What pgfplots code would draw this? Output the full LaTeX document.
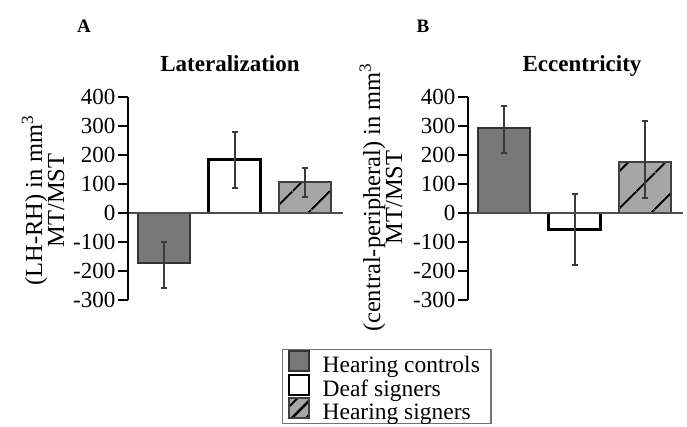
\documentclass[border=0pt]{standalone}
\usepackage{pgfplots}
\pgfplotsset{compat=1.18}
\usepackage{fontspec}
\setmainfont{Liberation Serif}
\usetikzlibrary{patterns.meta}
\definecolor{darkbar}{HTML}{787878}
\definecolor{lightbar}{HTML}{A6A6A6}
\definecolor{edge}{HTML}{333333}
\definecolor{errc}{HTML}{3A3A3A}
\pgfplotsset{
  panel/.style={
    scale only axis, width=215pt, height=203pt,
    xmin=0.485, xmax=3.54, ymin=-300, ymax=400,
    axis x line=middle, axis y line=left,
    axis line style={-},
    x axis line style={line width=1.4pt, color=black!70},
    y axis line style={line width=2.4pt, color=black},
    xtick=\empty,
    ytick={-300,-200,...,400},
    tick align=outside, major tick length=10pt,
    y tick style={line width=2.4pt, color=black},
    hide obscured x ticks=false, hide obscured y ticks=false,
    /pgf/number format/assume math mode=true,
    yticklabel style={font=\fontsize{23}{23}\selectfont, inner xsep=2.5pt},
    clip=false, axis on top,
    every axis y label/.style={rotate=90, anchor=center, align=center,
      font=\fontsize{24.5}{22}\selectfont},
  },
  barA/.style={ybar, bar width=52pt, bar shift=0pt, fill=darkbar, draw=edge, line width=2pt,
    error bars/.cd, y dir=both, y explicit,
    error bar style={line width=1.8pt, color=errc},
    error mark options={rotate=90, mark size=3pt, line width=1.8pt, color=errc}},
  barB/.style={ybar, bar width=52pt, bar shift=0pt, fill=white, draw=black, line width=2.4pt,
    error bars/.cd, y dir=both, y explicit,
    error bar style={line width=1.8pt, color=errc},
    error mark options={rotate=90, mark size=3pt, line width=1.8pt, color=errc}},
  barC/.style={ybar, bar width=52pt, bar shift=0pt, fill=lightbar, draw=black!75, line width=2pt,
    postaction={pattern={Lines[angle=45, distance=27pt, line width=2.4pt, xshift=15pt]}, pattern color=black},
    error bars/.cd, y dir=both, y explicit,
    error bar style={line width=1.8pt, color=errc},
    error mark options={rotate=90, mark size=3pt, line width=1.8pt, color=errc}},
}
\begin{document}
\begin{tikzpicture}
\path[use as bounding box] (0,0) rectangle (687pt,427pt);
\begin{axis}[panel, at={(128pt,127pt)}, anchor=south west,
  ylabel={(LH-RH) in mm\textsuperscript{3}\\MT/MST},
  every axis y label/.append style={at={(axis description cs:-0.395,0.49)}},
  legend style={at={(rel axis cs:0.716,-0.24)}, anchor=north west,
    draw=black!55, line width=1.4pt, fill=white,
    font=\fontsize{23.5}{23.5}\selectfont,
    cells={anchor=west}, inner xsep=5pt, inner ysep=1pt,
    nodes={inner ysep=1.5pt, inner xsep=6pt}, row sep=-2pt, column sep=7pt},
]
\addplot[legend image code/.code={\draw[fill=darkbar, draw=edge, line width=2pt] (0pt,-6pt) rectangle (20pt,14pt);}, barA]
  coordinates {(1,-171) += (0,72) -= (0,87)};
\addlegendentry{Hearing controls}
\addplot[legend image code/.code={\draw[fill=white, draw=black, line width=2pt] (0pt,-6pt) rectangle (20pt,14pt);}, barB]
  coordinates {(2,185) += (0,95) -= (0,98)};
\addlegendentry{Deaf signers}
\addplot[legend image code/.code={\draw[fill=lightbar, draw=black!75, line width=2pt, postaction={pattern={Lines[angle=45, distance=10pt, line width=2pt]}, pattern color=black}] (0pt,-6pt) rectangle (20pt,14pt);}, barC]
  coordinates {(3,107) += (0,47) -= (0,52)};
\addlegendentry{Hearing signers}
\end{axis}
\begin{axis}[panel, at={(468pt,127pt)}, anchor=south west,
  ylabel={(central-peripheral) in mm\textsuperscript{3}\\MT/MST},
  every axis y label/.append style={at={(axis description cs:-0.405,0.505)}},
]
\addplot[barA] coordinates {(1,294) += (0,75) -= (0,86)};
\addplot[barB] coordinates {(2,-57) += (0,122) -= (0,123)};
\addplot[barC] coordinates {(3,176) += (0,141) -= (0,123)};
\end{axis}
\node[anchor=base, font=\fontsize{19}{19}\selectfont\bfseries] at (84pt,394pt) {A};
\node[anchor=base, font=\fontsize{19}{19}\selectfont\bfseries] at (423pt,394pt) {B};
\node[anchor=base, font=\fontsize{23}{23}\selectfont\bfseries] at (230pt,355pt) {Lateralization};
\node[anchor=base, font=\fontsize{23}{23}\selectfont\bfseries] at (582pt,355pt) {Eccentricity};
\end{tikzpicture}
\end{document}
